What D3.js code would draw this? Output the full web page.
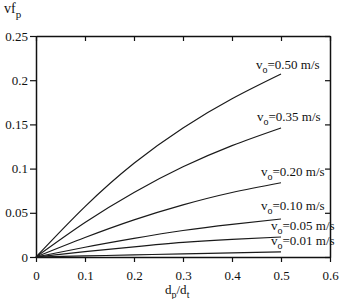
<!DOCTYPE html>
<html>
<head>
<meta charset="utf-8">
<script src="https://cdn.jsdelivr.net/npm/d3@7"></script>
<style>
  body { margin: 0; background: #fff; }
  svg text { font-family: "Liberation Serif", "Times New Roman", serif; fill: #111; }
</style>
</head>
<body>
<div id="chart"></div>
<script>
// Diameter ratio samples and vf_p values per inlet velocity
const ratios = [0, 0.1, 0.2, 0.3, 0.4, 0.5];
const velocities = ["0.50", "0.35", "0.20", "0.10", "0.05", "0.01"];
const v050 = [0, 0.057, 0.106, 0.146, 0.179, 0.207];
const v035 = [0, 0.039, 0.073, 0.102, 0.126, 0.146];
const v020 = [0, 0.022, 0.042, 0.059, 0.073, 0.084];
const v010 = [0, 0.011, 0.021, 0.030, 0.037, 0.043];
const v005 = [0, 0.006, 0.0115, 0.0165, 0.020, 0.0226];
const v001 = [0, 0.0012, 0.0024, 0.0035, 0.0046, 0.0057];
const seriesValues = [v050, v035, v020, v010, v005, v001];
const xTicks = [0, 0.1, 0.2, 0.3, 0.4, 0.5, 0.6];
const yTicks = [0, 0.05, 0.1, 0.15, 0.2, 0.25];

// label placement relative to the end of each curve (layout only)
const labelDx = [-25, -24, -20, -20, -10, -10];
const labelDy = [-5, -7, -7, -9, -7, -7];

const W = 340, H = 299;
const margin = { top: 36, right: 10, bottom: 42, left: 36 };
const width = W - margin.left - margin.right;
const height = H - margin.top - margin.bottom;
const serif = '"Liberation Serif", "Times New Roman", serif';

const svg = d3.select("#chart").append("svg")
  .attr("width", W).attr("height", H);
const g = svg.append("g")
  .attr("transform", `translate(${margin.left},${margin.top})`);

const x = d3.scaleLinear().domain([0, 0.6]).range([0, width]);
const y = d3.scaleLinear().domain([0, 0.25]).range([height, 0]);

// axes
const fmt = d => d === 0 ? "0" : String(d);
const axBottom = g.append("g").attr("transform", `translate(0,${height})`)
  .call(d3.axisBottom(x).tickValues(xTicks).tickFormat(fmt).tickSize(5).tickSizeOuter(0));
const axLeft = g.append("g")
  .call(d3.axisLeft(y).tickValues(yTicks).tickFormat(fmt).tickSize(6).tickSizeOuter(0));
const axTop = g.append("g")
  .call(d3.axisBottom(x).tickValues(xTicks).tickFormat("").tickSize(5).tickSizeOuter(0));
const axRight = g.append("g").attr("transform", `translate(${width},0)`)
  .call(d3.axisLeft(y).tickValues(yTicks).tickFormat("").tickSize(5).tickSizeOuter(0));

[axBottom, axLeft, axTop, axRight].forEach(a => {
  a.attr("font-family", serif).attr("font-size", 13);
  a.select(".domain").attr("stroke", "#111").attr("stroke-width", 1.5);
  a.selectAll(".tick line").attr("stroke", "#111").attr("stroke-width", 1.2);
  a.selectAll(".tick text").attr("fill", "#111");
});
axBottom.selectAll(".tick text").attr("dy", "1.15em");
axLeft.selectAll(".tick text").attr("x", -8);

// curves
const line = d3.line()
  .x((d, i) => x(ratios[i]))
  .y(d => y(d))
  .curve(d3.curveNatural);

seriesValues.forEach((vals, k) => {
  g.append("path")
    .datum(vals)
    .attr("fill", "none")
    .attr("stroke", "#1a1a1a")
    .attr("stroke-width", 1.2)
    .attr("d", line);

  const t = g.append("text")
    .attr("x", x(ratios[ratios.length - 1]) + labelDx[k])
    .attr("y", y(vals[vals.length - 1]) + labelDy[k])
    .attr("font-family", serif)
    .attr("font-size", 13);
  t.append("tspan").text("v");
  t.append("tspan").attr("dy", 4).attr("font-size", 10).text("o");
  t.append("tspan").attr("dy", -4).text("=" + velocities[k] + " m/s");
});

// y title
const yt = svg.append("text").attr("x", 4).attr("y", 13)
  .attr("font-family", serif).attr("font-size", 14);
yt.append("tspan").text("vf");
yt.append("tspan").attr("dy", 5).attr("font-size", 11).text("p");

// x title
const xt = svg.append("text").attr("x", 165).attr("y", 294)
  .attr("font-family", serif).attr("font-size", 13);
xt.append("tspan").text("d");
xt.append("tspan").attr("dy", 4).attr("font-size", 10).text("p");
xt.append("tspan").attr("dy", -4).text("/d");
xt.append("tspan").attr("dy", 4).attr("font-size", 10).text("t");
</script>
</body>
</html>
